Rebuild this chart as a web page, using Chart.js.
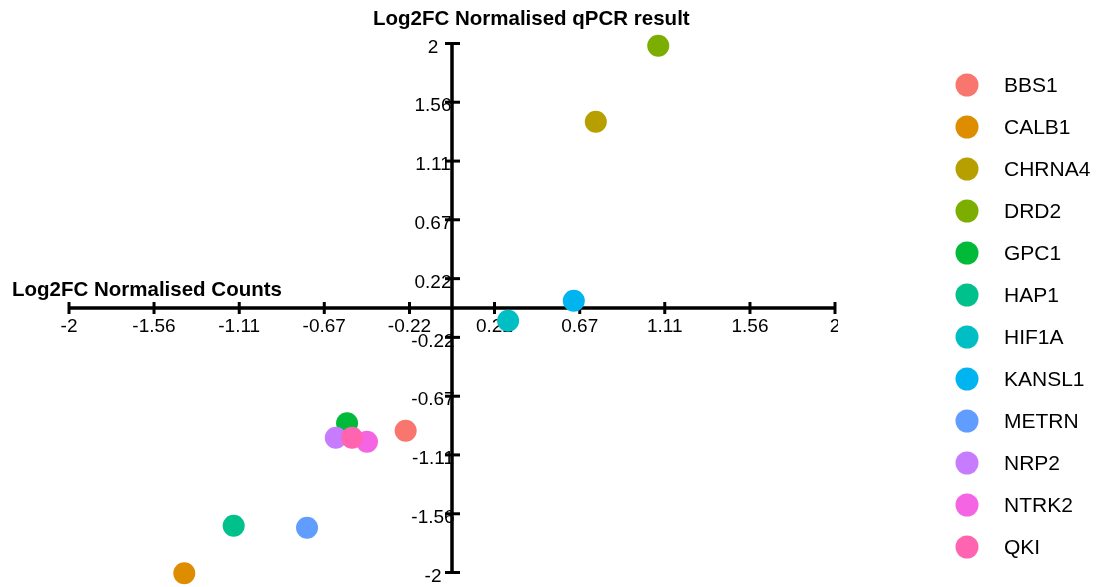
<!DOCTYPE html>
<html>
<head>
<meta charset="utf-8">
<script src="https://cdn.jsdelivr.net/npm/chart.js@4.4.1/dist/chart.umd.min.js"></script>
<style>
  html, body { margin: 0; padding: 0; background: #fff; }
  #wrap { width: 1098px; height: 587px; }
</style>
</head>
<body>
<div id="wrap"><canvas id="chart"></canvas></div>
<script>
// Data
const genes   = ['BBS1', 'CALB1', 'CHRNA4', 'DRD2', 'GPC1', 'HAP1', 'HIF1A', 'KANSL1', 'METRN', 'NRP2', 'NTRK2', 'QKI'];
const xCounts = [-0.242, -1.398, 0.751, 1.077, -0.548, -1.140, 0.293, 0.636, -0.757, -0.607, -0.444, -0.522];
const yQpcr   = [-0.928, -2.006, 1.409, 1.983, -0.872, -1.646, -0.096, 0.055, -1.661, -0.981, -1.011, -0.981];
const colors  = ['#F8766D', '#DE8C00', '#B79F00', '#7CAE00', '#00BA38', '#00C08B', '#00BFC4', '#00B4F0', '#619CFF', '#C77CFF', '#F564E3', '#FF64B0'];

const xTicks      = [-2, -1.556, -1.111, -0.667, -0.222, 0.222, 0.667, 1.111, 1.556, 2];
const xTickLabels = ['-2', '-1.56', '-1.11', '-0.67', '-0.22', '0.22', '0.67', '1.11', '1.56', '2'];
const yTicks      = [-2, -1.556, -1.111, -0.667, -0.222, 0.222, 0.667, 1.111, 1.556, 2];
const yTickLabels = ['-2', '-1.56', '-1.11', '-0.67', '-0.22', '0.22', '0.67', '1.11', '1.56', '2'];

const xTitle = 'Log2FC Normalised Counts';
const yTitle = 'Log2FC Normalised qPCR result';

const FONT = "'Liberation Sans', Arial, sans-serif";

// one dataset per gene, later genes drawn on top
const datasets = genes.map((g, i) => ({
  label: g,
  data: [{ x: xCounts[i], y: yQpcr[i] }],
  backgroundColor: colors[i],
  borderWidth: 0,
  pointRadius: 11,
  pointHoverRadius: 11,
  order: genes.length - i,
  clip: false
}));

// axes crossing at 0, drawn under the points
const axesCroises = {
  id: 'axesCroises',
  beforeDatasetsDraw(chart) {
    const ctx = chart.ctx;
    const sx = chart.scales.x;
    const sy = chart.scales.y;
    const x0 = sx.getPixelForValue(0);
    const y0 = sy.getPixelForValue(0);

    ctx.save();
    ctx.strokeStyle = '#000';
    ctx.fillStyle = '#000';

    // x axis line + ticks
    ctx.lineWidth = 3.5;
    ctx.beginPath();
    ctx.moveTo(sx.left, y0);
    ctx.lineTo(sx.right, y0);
    ctx.stroke();
    ctx.lineWidth = 3;
    sx.ticks.forEach(t => {
      const px = sx.getPixelForValue(t.value);
      ctx.beginPath();
      ctx.moveTo(px, y0 - 6);
      ctx.lineTo(px, y0 + 6);
      ctx.stroke();
    });

    // y axis line + ticks
    ctx.lineWidth = 3.5;
    ctx.beginPath();
    ctx.moveTo(x0, sy.top);
    ctx.lineTo(x0, sy.bottom);
    ctx.stroke();
    ctx.lineWidth = 3;
    sy.ticks.forEach(t => {
      const py = sy.getPixelForValue(t.value);
      ctx.beginPath();
      ctx.moveTo(x0 - 7, py);
      ctx.lineTo(x0 + 8, py);
      ctx.stroke();
    });

    // tick labels (last x label is cut at the edge in the original)
    ctx.font = '19px ' + FONT;
    ctx.textBaseline = 'middle';
    ctx.textAlign = 'center';
    ctx.save();
    ctx.beginPath();
    ctx.rect(0, 0, sx.right + 3, chart.height);
    ctx.clip();
    sx.ticks.forEach((t, i) => {
      ctx.fillText(xTickLabels[i], sx.getPixelForValue(t.value), y0 + 19);
    });
    ctx.restore();
    sy.ticks.forEach((t, i) => {
      ctx.fillText(yTickLabels[i], x0 - 19, sy.getPixelForValue(t.value) + 4);
    });

    // axis titles
    ctx.font = 'bold 20.5px ' + FONT;
    ctx.textBaseline = 'alphabetic';
    ctx.textAlign = 'left';
    ctx.fillText(xTitle, 12, 296);
    ctx.fillText(yTitle, 373, 25);
    ctx.restore();
  }
};

// legend on the right, from the datasets
const legendeDroite = {
  id: 'legendeDroite',
  afterDraw(chart) {
    const ctx = chart.ctx;
    ctx.save();
    ctx.font = '21px ' + FONT;
    ctx.textBaseline = 'middle';
    ctx.textAlign = 'left';
    chart.data.datasets.forEach((ds, i) => {
      const cy = 85 + i * 42;
      ctx.fillStyle = ds.backgroundColor;
      ctx.beginPath();
      ctx.arc(967, cy, 11.5, 0, Math.PI * 2);
      ctx.fill();
      ctx.fillStyle = '#000';
      ctx.fillText(ds.label, 1004, cy + 1);
    });
    ctx.restore();
  }
};

new Chart(document.getElementById('chart'), {
  type: 'scatter',
  data: { datasets },
  options: {
    responsive: true,
    maintainAspectRatio: false,
    animation: false,
    layout: { padding: { left: 69, right: 263, top: 43.5, bottom: 14.5 } },
    plugins: {
      legend: { display: false },
      tooltip: { enabled: false }
    },
    scales: {
      x: {
        type: 'linear', min: -2, max: 2, display: false,
        afterBuildTicks: s => { s.ticks = xTicks.map(v => ({ value: v })); }
      },
      y: {
        type: 'linear', min: -2, max: 2, display: false,
        afterBuildTicks: s => { s.ticks = yTicks.map(v => ({ value: v })); }
      }
    }
  },
  plugins: [axesCroises, legendeDroite]
});
</script>
</body>
</html>
